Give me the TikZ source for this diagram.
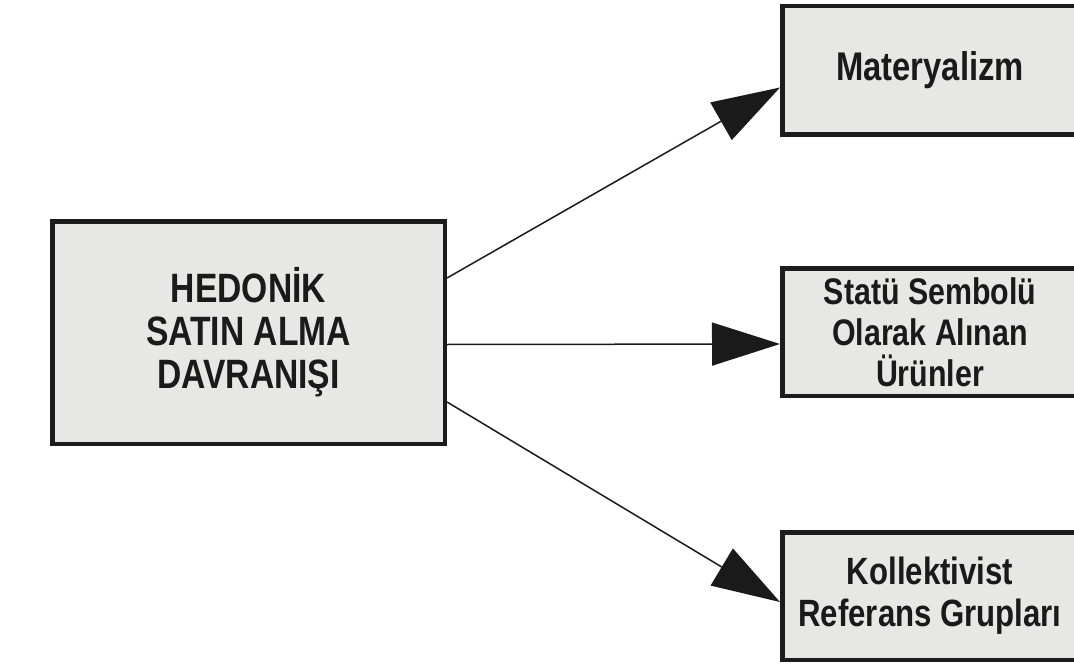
\documentclass[tikz,border=0pt]{standalone}
\usepackage{fontspec}
\setmainfont{Liberation Sans}[FakeStretch=0.82]
\usetikzlibrary{arrows.meta}
\definecolor{boxline}{HTML}{1C1C1C}
\definecolor{boxfill}{HTML}{E7E7E6}
\definecolor{ink}{HTML}{1A1A1A}
\begin{document}
\begin{tikzpicture}[x=1pt,y=-1pt,
  box/.style={draw=boxline, fill=boxfill, line width=4.5pt, rectangle,
    inner sep=0pt, align=center, text=ink,
    font=\bfseries\fontsize{38}{42}\selectfont},
  link/.style={draw=ink, line width=1.5pt,
    -{Triangle[length=68pt,width=43pt]}}]
\clip (0,0) rectangle (1074,666);
\fill[white] (0,0) rectangle (1074,666);

% source box
\node[box, minimum width=392.5pt, minimum height=222.5pt,
      font=\bfseries\fontsize{41}{43}\selectfont] (src) at (248.5,332.5)
      {HEDONİK\\SATIN ALMA\\DAVRANIŞI};

% target boxes (running past the right edge)
\node[box, minimum width=295.5pt, minimum height=128.5pt,
      font=\bfseries\fontsize{40}{44}\selectfont] (mat) at (930,70.5) {Materyalizm};
\node[box, minimum width=295.5pt, minimum height=127.5pt,
      font=\bfseries\fontsize{37}{41}\selectfont] (stat) at (930,332)
      {Statü Sembolü\\Olarak Alınan\\Ürünler};
\node[box, minimum width=295.5pt, minimum height=127.5pt] (kol) at (930,596)
      {Kollektivist\\Referans Grupları};

% connectors
\draw[link] ([yshift=54.5pt]src.east) -- ([yshift=-17pt]mat.west);
\draw[link] ([yshift=-12pt]src.east) -- ([yshift=-12pt]stat.west);
\draw[link] ([yshift=-69.5pt]src.east) -- ([yshift=-6pt]kol.west);
\end{tikzpicture}
\end{document}
